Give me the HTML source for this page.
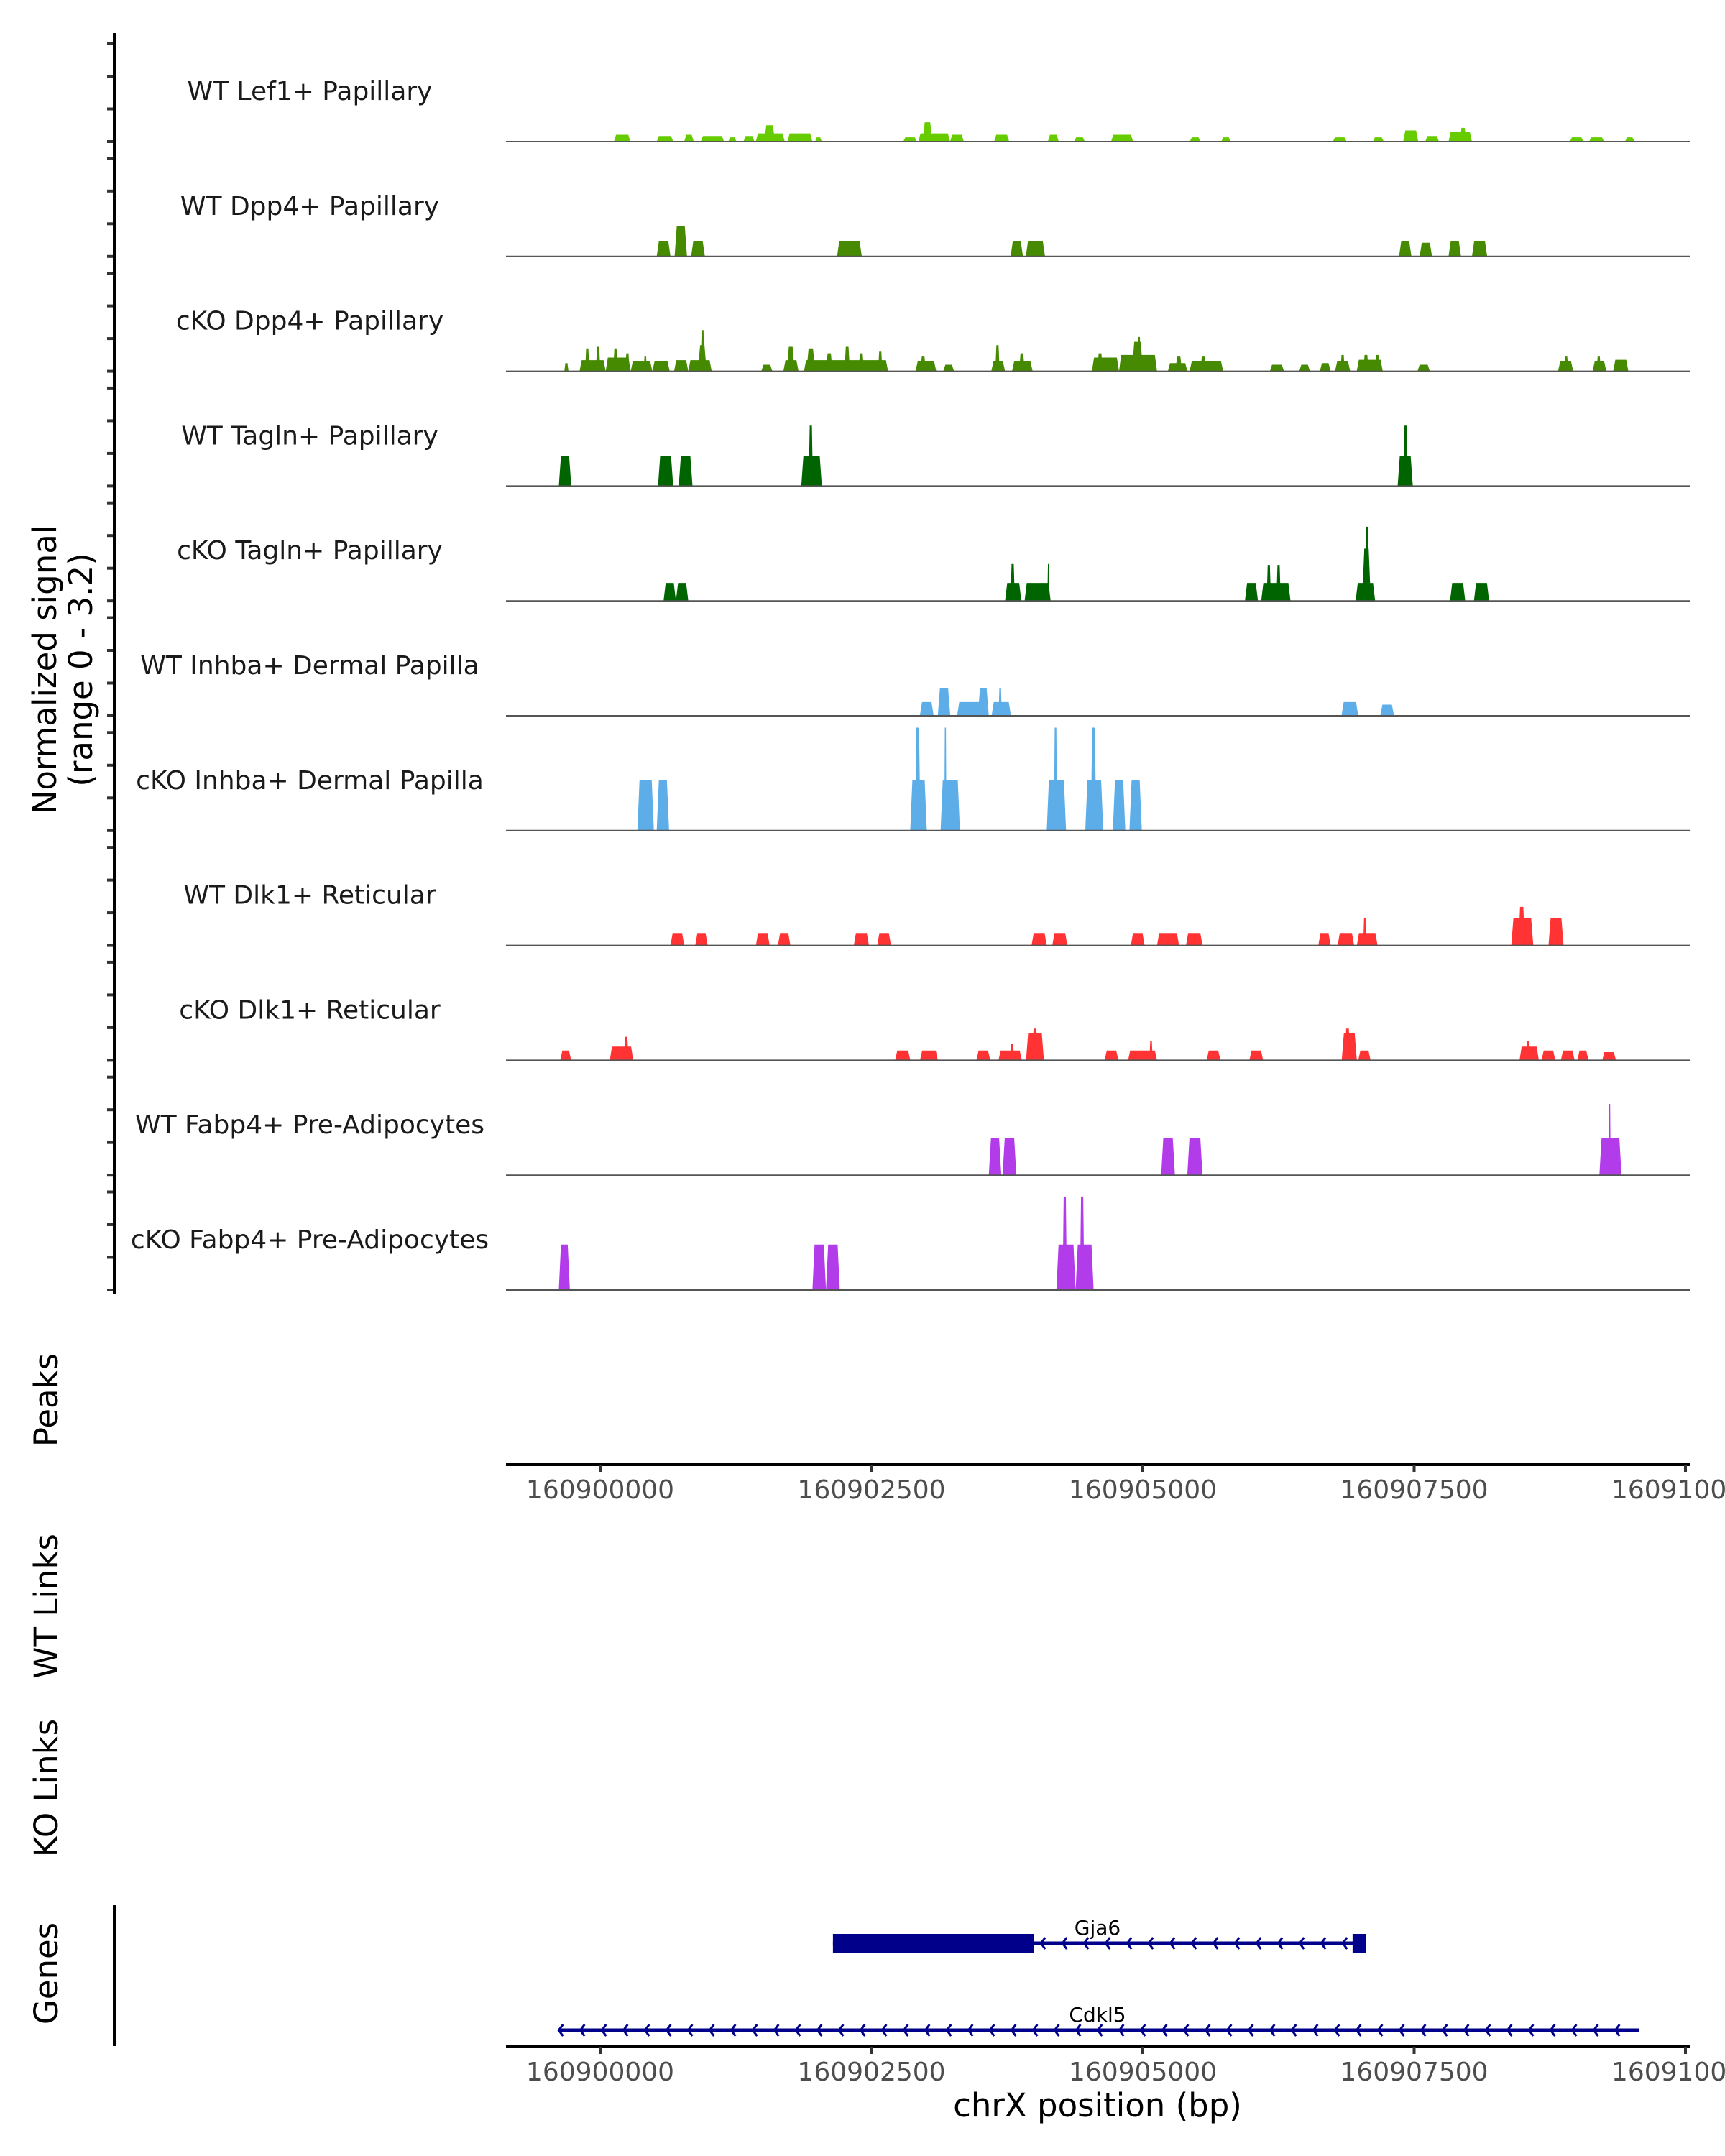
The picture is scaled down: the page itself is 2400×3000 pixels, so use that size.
<!DOCTYPE html>
<html><head><meta charset="utf-8">
<style>
html,body{margin:0;padding:0;background:#fff;}
svg{display:block;}
text{font-family:"DejaVu Sans","Liberation Sans",sans-serif;}
</style></head>
<body>
<svg id="fig" width="2400" height="3000" viewBox="0 0 2400 3000" xmlns="http://www.w3.org/2000/svg">
<g id="tracks"></g>
<g id="axes"></g>
<g id="genes"></g>
</svg>
<script>
// data positions are bp offsets relative to BASE
const BASE = 160900381;
const trackNames = ["WT Lef1+ Papillary","WT Dpp4+ Papillary","cKO Dpp4+ Papillary","WT Tagln+ Papillary","cKO Tagln+ Papillary","WT Inhba+ Dermal Papilla","cKO Inhba+ Dermal Papilla","WT Dlk1+ Reticular","cKO Dlk1+ Reticular","WT Fabp4+ Pre-Adipocytes","cKO Fabp4+ Pre-Adipocytes"];
const trackColors = ["#66cc00","#458a00","#458a00","#006400","#006400","#5dade9","#5dade9","#ff3333","#ff3333","#b23bea","#b23bea"];
const lef1WT = [[-254,-102,.21],[140,292,.17],[393,482,.21],[546,761,.17],[799,876,.13],[939,1041,.17],[1053,1320,.25],[1130,1230,.5],[1345,1574,.25],[1599,1662,.13],[2411,2538,.13],[2551,2843,.25],[2590,2680,.59],[2843,2970,.21],[3249,3388,.21],[3744,3845,.21],[3985,4086,.13],[4327,4530,.21],[5051,5152,.13],[5342,5431,.13],[6370,6497,.13],[6738,6840,.13],[7018,7157,.34],[7221,7348,.17],[7436,7652,.3],[7540,7600,.42],[8553,8680,.13],[8731,8870,.13],[9061,9150,.13]];
const dpp4WT = [[140,267,.46],[305,419,.92],[457,584,.46],[1802,2030,.46],[3401,3515,.46],[3541,3718,.46],[6980,7094,.46],[7170,7284,.42],[7436,7551,.46],[7652,7792,.46]];
const dpp4KO = [[-711,-673,.25],[-571,-330,.34],[-330,-100,.42],[-100,100,.3],[100,260,.3],[300,431,.34],[-520,-480,.7],[-420,-380,.75],[-260,-220,.7],[-150,-110,.55],[20,50,.45],[431,647,.34],[520,600,.8],[545,580,1.26],[1104,1206,.2],[1307,1447,.34],[1340,1410,.75],[1497,2272,.34],[1520,1600,.7],[1700,1760,.55],[1870,1920,.75],[2000,2050,.55],[2180,2220,.6],[2525,2716,.3],[2570,2620,.45],[2780,2880,.2],[3223,3350,.3],[3260,3300,.8],[3414,3604,.3],[3480,3530,.55],[4150,4400,.42],[4200,4250,.55],[4400,4750,.5],[4520,4620,.9],[4570,4600,1.05],[4850,5030,.25],[4920,4980,.45],[5050,5360,.3],[5150,5200,.45],[5790,5920,.2],[6060,6160,.2],[6250,6350,.25],[6390,6530,.3],[6440,6480,.5],[6590,6830,.35],[6650,6700,.5],[6760,6800,.5],[7150,7264,.2],[8445,8585,.3],[8500,8540,.45],[8763,8890,.3],[8800,8840,.45],[8953,9093,.35]];
const taglnWT = [[-762,-647,.92],[152,292,.92],[343,470,.92],[1472,1662,.92],[1540,1580,1.85],[6967,7107,.92],[7020,7060,1.85]];
const taglnKO = [[203,317,.55],[317,431,.55],[3350,3500,.55],[3400,3440,1.13],[3530,3770,.55],[3740,3760,1.13],[5560,5680,.55],[5710,5980,.55],[5760,5800,1.1],[5850,5890,1.1],[6580,6760,.55],[6640,6720,1.6],[6670,6700,2.27],[7450,7590,.55],[7670,7810,.55]];
const inhbaWT = [[2565,2692,.42],[2730,2845,.84],[2908,3162,.42],[3099,3200,.84],[3226,3404,.42],[3290,3320,.84],[6450,6604,.42],[6807,6934,.34]];
const inhbaKO = [[-38,114,1.55],[140,254,1.55],[2476,2629,1.55],[2520,2570,3.15],[2756,2934,1.55],[2790,2810,3.15],[3734,3912,1.55],[3800,3830,3.15],[4089,4255,1.55],[4140,4190,3.15],[4343,4458,1.55],[4496,4610,1.55]];
const dlk1WT = [[267,394,.38],[495,610,.38],[1054,1181,.38],[1257,1372,.38],[1956,2096,.38],[2172,2299,.38],[3594,3734,.38],[3785,3924,.38],[4509,4636,.38],[4750,4953,.38],[5017,5169,.38],[6236,6350,.38],[6414,6566,.38],[6591,6782,.38],[6650,6680,.84],[8014,8217,.84],[8080,8140,1.18],[8357,8496,.84]];
const dlk1KO = [[-749,-648,.3],[-292,-76,.42],[-160,-120,.72],[2337,2477,.3],[2566,2731,.3],[3086,3213,.3],[3289,3505,.3],[3400,3430,.5],[3543,3708,.84],[3600,3650,.97],[4267,4394,.3],[4483,4750,.3],[4680,4710,.59],[5207,5334,.3],[5601,5728,.3],[6452,6591,.84],[6480,6530,.97],[6604,6718,.3],[8090,8268,.42],[8150,8190,.59],[8293,8420,.3],[8471,8598,.3],[8623,8725,.3],[8852,8979,.25]];
const fabp4WT = [[3200,3315,1.13],[3327,3454,1.13],[4788,4915,1.13],[5029,5169,1.13],[8826,9030,1.13],[8910,8930,2.18]];
const fabp4KO = [[-762,-660,1.39],[1575,1700,1.39],[1700,1827,1.39],[3823,4000,1.39],[3880,3920,2.86],[4000,4166,1.39],[4040,4080,2.86]];
const trackData = [lef1WT,dpp4WT,dpp4KO,taglnWT,taglnKO,inhbaWT,inhbaKO,dlk1WT,dlk1KO,fabp4WT,fabp4KO];
const xTicks = [160900000,160902500,160905000,160907500,160910000];
const yTicks = [0,1,2,3];
const genes = [
  {name:"Gja6", start:1764, thickEnd:3614, lastExon:6552, end:6678},
  {name:"Cdkl5", start:-763, end:9191}
];

const NS="http://www.w3.org/2000/svg";
function mk(tag, attrs, parent, txt){const e=document.createElementNS(NS,tag);for(const k in attrs)e.setAttribute(k,attrs[k]);if(txt!==undefined)e.textContent=txt;parent.appendChild(e);return e;}
const PXBP=377.5/2500;
function xa(abs){return 835+(abs-160900000)*PXBP;}
function xs(off){return xa(BASE+off);}
const PLOT_L=704, PLOT_R=2352;
function baseY(i){return 197+i*159.8;}
const YU=45.5;

const tg=document.getElementById('tracks');
trackNames.forEach((nm,i)=>{
  const b=baseY(i);
  const g=mk('g',{},tg);
  
  
  const lab=mk('text',{x:431,y:b-58,'text-anchor':'middle','font-size':36,fill:'#1a1a1a'},g,nm);
  
  
  trackData[i].forEach(p=>{
    const x1=xs(p[0]),x2=xs(p[1]),h=p[2]*YU;
    const s=Math.min(3,(x2-x1)/4);
    const poly=mk('polygon',{points:`${x1},${b} ${x1+s},${b-h} ${x2-s},${b-h} ${x2},${b}`,fill:trackColors[i]},g);
    
    
  });
  const bl=mk('line',{x1:PLOT_L,x2:PLOT_R,y1:b,y2:b,stroke:'#555',"stroke-width":2},g);
  
  
  yTicks.forEach(t=>{
    const tk=mk('line',{x1:149,x2:159,y1:b-t*YU,y2:b-t*YU,stroke:'#333',"stroke-width":4},g);
    
    
  });
});

const ax=document.getElementById('axes');
let e=mk('line',{x1:159,x2:159,y1:46,y2:1800,stroke:'#000',"stroke-width":4},ax);


e=mk('text',{transform:'translate(78,932) rotate(-90)','text-anchor':'middle','font-size':45,fill:'#000'},ax);


mk('tspan',{x:0,dy:0},e,'Normalized signal');
mk('tspan',{x:0,dy:50},e,'(range 0 - 3.2)');
[["Peaks",1948],["WT Links",2235],["KO Links",2488],["Genes",2746]].forEach(a=>{
  const t=mk('text',{transform:`translate(80,${a[1]}) rotate(-90)`,'text-anchor':'middle','font-size':45,fill:'#000'},ax,a[0]);
  
  
});
[2038,2848].forEach(yy=>{
  const l=mk('line',{x1:PLOT_L,x2:PLOT_R,y1:yy,y2:yy,stroke:'#000',"stroke-width":4},ax);
  
  
  xTicks.forEach(t=>{
    const x=xa(t);
    const tk=mk('line',{x1:x,x2:x,y1:yy,y2:yy+10,stroke:'#333',"stroke-width":4},ax);
    
    
    const tl=mk('text',{x:x,y:yy+47,'text-anchor':'middle','font-size':36,fill:'#4d4d4d'},ax,String(t));
    
    
  });
});
e=mk('text',{x:1527,y:2945,'text-anchor':'middle','font-size':45,fill:'#000'},ax,'chrX position (bp)');


e=mk('line',{x1:159,x2:159,y1:2651,y2:2847,stroke:'#000',"stroke-width":4},ax);



const gg=document.getElementById('genes');
const C='#00008b';
function chevrons(g,x1,x2,y,step){
  for(let x=x1+10;x<x2-4;x+=step){
    const c=mk('polyline',{points:`${x+6},${y-8} ${x},${y} ${x+6},${y+8}`,fill:'none',stroke:C,"stroke-width":3},g);
    
    
  }
}
{
  const g=genes[0], y=2704;
  const grp=mk('g',{},gg);
  
  
  mk('line',{x1:xs(g.start),x2:xs(g.end),y1:y,y2:y,stroke:C,"stroke-width":5},grp);
  mk('rect',{x:xs(g.start),y:y-13,width:xs(g.thickEnd)-xs(g.start),height:26,fill:C},grp);
  mk('rect',{x:xs(g.lastExon),y:y-13,width:xs(g.end)-xs(g.lastExon),height:26,fill:C},grp);
  chevrons(grp,xs(g.thickEnd),xs(g.lastExon),y,30);
  const t=mk('text',{x:1527,y:2692,'text-anchor':'middle','font-size':28,fill:'#000'},grp,g.name);
  
  
}
{
  const g=genes[1], y=2825;
  const grp=mk('g',{},gg);
  
  
  mk('line',{x1:xs(g.start),x2:xs(g.end),y1:y,y2:y,stroke:C,"stroke-width":5},grp);
  chevrons(grp,xs(g.start)-10,xs(g.end)-20,y,30);
  const t=mk('text',{x:1527,y:2813,'text-anchor':'middle','font-size':28,fill:'#000'},grp,g.name);
  
  
}
</script>
</body></html>
